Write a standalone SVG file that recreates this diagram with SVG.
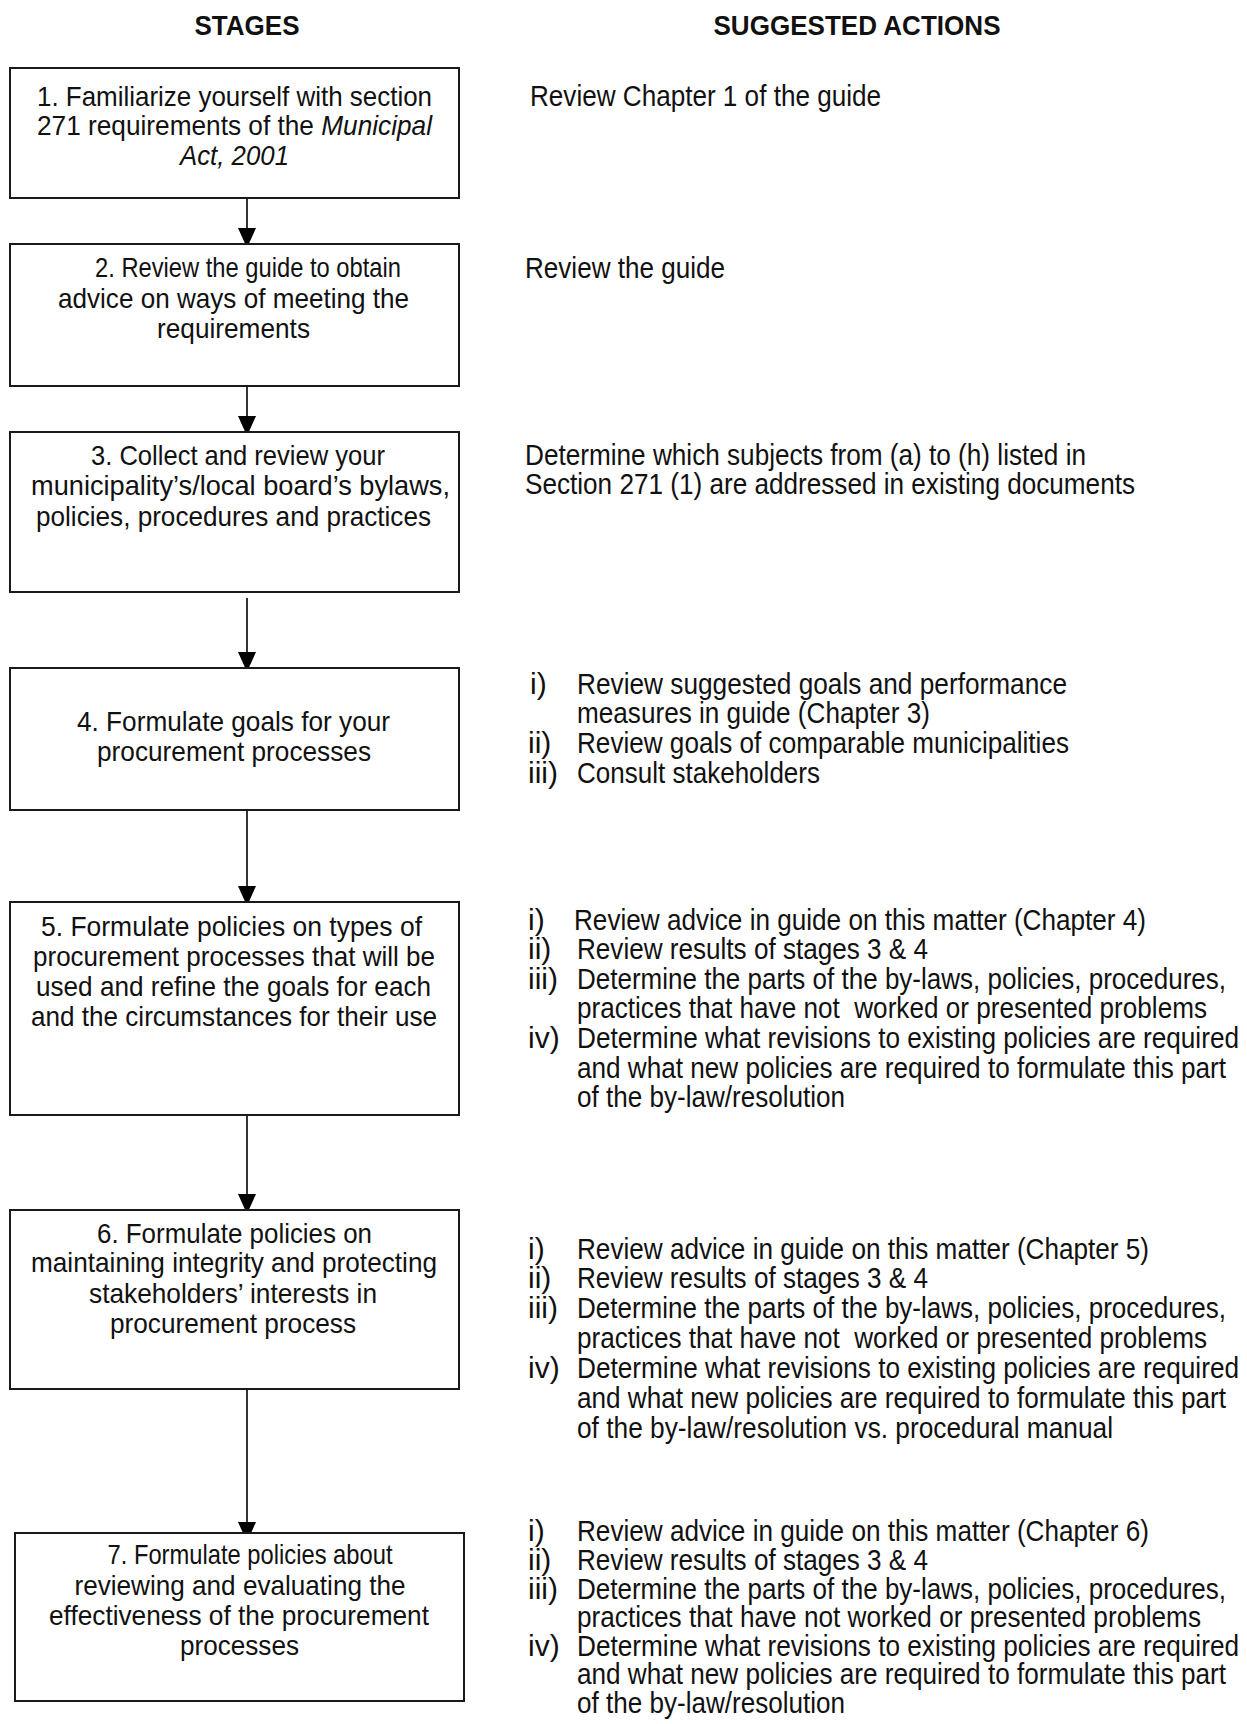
<svg xmlns="http://www.w3.org/2000/svg" width="1247" height="1724" viewBox="0 0 1247 1724">
<style>
  text { font-family: 'Liberation Sans Narrow', 'Arial Narrow', 'Liberation Sans', Arial, sans-serif; font-size: 28px; fill: #111; }
  .hdr { font-weight: bold; font-size: 28px; text-anchor: middle; }
  .c { text-anchor: middle; }
  .r text { font-size: 30px; }
  .box { fill: #fff; stroke: #1a1a1a; stroke-width: 2; }
  .conn { stroke: #000; stroke-width: 1.6; fill: none; marker-end: url(#ah); }
  .it { font-style: italic; }
</style>
<defs>
  <marker id="ah" markerUnits="userSpaceOnUse" markerWidth="18" markerHeight="22" refX="16" refY="9" orient="auto">
    <path d="M0,0 L20,9 L0,18 Z" fill="#000"/>
  </marker>
</defs>
<rect x="0" y="0" width="1247" height="1724" fill="#fff"/>

<text class="hdr" x="247" y="35" textLength="105" lengthAdjust="spacingAndGlyphs">STAGES</text>
<text class="hdr" x="857" y="35" textLength="287" lengthAdjust="spacingAndGlyphs">SUGGESTED ACTIONS</text>

<g id="connectors">
  <line class="conn" x1="247" y1="198" x2="247" y2="244"/>
  <line class="conn" x1="247" y1="386" x2="247" y2="432"/>
  <line class="conn" x1="247" y1="598" x2="247" y2="668"/>
  <line class="conn" x1="247" y1="810" x2="247" y2="902"/>
  <line class="conn" x1="247" y1="1115" x2="247" y2="1210"/>
  <line class="conn" x1="247" y1="1389" x2="247" y2="1538"/>
</g>

<g id="stage1">
  <rect class="box" x="10" y="68" width="449" height="130"/>
  <text class="c" x="234.5" y="106" textLength="395" lengthAdjust="spacingAndGlyphs">1. Familiarize yourself with section</text>
  <text class="c" x="234.5" y="135" textLength="395" lengthAdjust="spacingAndGlyphs">271 requirements of the <tspan class="it">Municipal</tspan></text>
  <text class="c it" x="234.5" y="165" textLength="109" lengthAdjust="spacingAndGlyphs">Act, 2001</text>
</g>
<g id="stage2">
  <rect class="box" x="10" y="244" width="449" height="142"/>
  <text class="c" x="248" y="277" textLength="306" lengthAdjust="spacingAndGlyphs">2. Review the guide to obtain</text>
  <text class="c" x="233.5" y="308" textLength="351" lengthAdjust="spacingAndGlyphs">advice on ways of meeting the</text>
  <text class="c" x="233.5" y="338" textLength="153" lengthAdjust="spacingAndGlyphs">requirements</text>
</g>
<g id="stage3">
  <rect class="box" x="10" y="432" width="449" height="160"/>
  <text class="c" x="238" y="465" textLength="294" lengthAdjust="spacingAndGlyphs">3. Collect and review your</text>
  <text class="c" x="240.5" y="495" textLength="419" lengthAdjust="spacingAndGlyphs">municipality’s/local board’s bylaws,</text>
  <text class="c" x="233.5" y="526" textLength="395" lengthAdjust="spacingAndGlyphs">policies, procedures and practices</text>
</g>
<g id="stage4">
  <rect class="box" x="10" y="668" width="449" height="142"/>
  <text class="c" x="233.5" y="731" textLength="313" lengthAdjust="spacingAndGlyphs">4. Formulate goals for your</text>
  <text class="c" x="234" y="761" textLength="274" lengthAdjust="spacingAndGlyphs">procurement processes</text>
</g>
<g id="stage5">
  <rect class="box" x="10" y="902" width="449" height="213"/>
  <text class="c" x="231.5" y="936" textLength="381" lengthAdjust="spacingAndGlyphs">5. Formulate policies on types of</text>
  <text class="c" x="234" y="966" textLength="402" lengthAdjust="spacingAndGlyphs">procurement processes that will be</text>
  <text class="c" x="233.5" y="996" textLength="395" lengthAdjust="spacingAndGlyphs">used and refine the goals for each</text>
  <text class="c" x="234" y="1026" textLength="406" lengthAdjust="spacingAndGlyphs">and the circumstances for their use</text>
</g>
<g id="stage6">
  <rect class="box" x="10" y="1210" width="449" height="179"/>
  <text class="c" x="234.5" y="1243" textLength="275" lengthAdjust="spacingAndGlyphs">6. Formulate policies on</text>
  <text class="c" x="234" y="1272" textLength="406" lengthAdjust="spacingAndGlyphs">maintaining integrity and protecting</text>
  <text class="c" x="233" y="1303" textLength="288" lengthAdjust="spacingAndGlyphs">stakeholders’ interests in</text>
  <text class="c" x="233" y="1333" textLength="246" lengthAdjust="spacingAndGlyphs">procurement process</text>
</g>
<g id="stage7">
  <rect class="box" x="15" y="1533" width="449" height="168"/>
  <text class="c" x="250" y="1564" textLength="285" lengthAdjust="spacingAndGlyphs">7. Formulate policies about</text>
  <text class="c" x="240" y="1595" textLength="331" lengthAdjust="spacingAndGlyphs">reviewing and evaluating the</text>
  <text class="c" x="239" y="1625" textLength="380" lengthAdjust="spacingAndGlyphs">effectiveness of the procurement</text>
  <text class="c" x="239.5" y="1655" textLength="119" lengthAdjust="spacingAndGlyphs">processes</text>
</g>

<g class="r">
<g id="actions1">
  <text x="530" y="106" textLength="351" lengthAdjust="spacingAndGlyphs">Review Chapter 1 of the guide</text>
</g>
<g id="actions2">
  <text x="525" y="278" textLength="200" lengthAdjust="spacingAndGlyphs">Review the guide</text>
</g>
<g id="actions3">
  <text x="525" y="465" textLength="561" lengthAdjust="spacingAndGlyphs">Determine which subjects from (a) to (h) listed in</text>
  <text x="525" y="494" textLength="610" lengthAdjust="spacingAndGlyphs">Section 271 (1) are addressed in existing documents</text>
</g>
<g id="actions4">
  <text x="530" y="694">i)</text>
  <text x="577" y="694" textLength="490" lengthAdjust="spacingAndGlyphs">Review suggested goals and performance</text>
  <text x="577" y="723" textLength="353" lengthAdjust="spacingAndGlyphs">measures in guide (Chapter 3)</text>
  <text x="528" y="753">ii)</text>
  <text x="577" y="753" textLength="492" lengthAdjust="spacingAndGlyphs">Review goals of comparable municipalities</text>
  <text x="528" y="783">iii)</text>
  <text x="577" y="783" textLength="243" lengthAdjust="spacingAndGlyphs">Consult stakeholders</text>
</g>
<g id="actions5">
  <text x="528" y="930">i)</text>
  <text x="574" y="930" textLength="572" lengthAdjust="spacingAndGlyphs">Review advice in guide on this matter (Chapter 4)</text>
  <text x="528" y="959">ii)</text>
  <text x="577" y="959" textLength="351" lengthAdjust="spacingAndGlyphs">Review results of stages 3 &amp; 4</text>
  <text x="528" y="989">iii)</text>
  <text x="577" y="989" textLength="649" lengthAdjust="spacingAndGlyphs">Determine the parts of the by-laws, policies, procedures,</text>
  <text x="577" y="1018" textLength="630" lengthAdjust="spacingAndGlyphs" xml:space="preserve">practices that have not  worked or presented problems</text>
  <text x="528" y="1048">iv)</text>
  <text x="577" y="1048" textLength="662" lengthAdjust="spacingAndGlyphs">Determine what revisions to existing policies are required</text>
  <text x="577" y="1078" textLength="649" lengthAdjust="spacingAndGlyphs">and what new policies are required to formulate this part</text>
  <text x="577" y="1107" textLength="268" lengthAdjust="spacingAndGlyphs">of the by-law/resolution</text>
</g>
<g id="actions6">
  <text x="528" y="1259">i)</text>
  <text x="577" y="1259" textLength="572" lengthAdjust="spacingAndGlyphs">Review advice in guide on this matter (Chapter 5)</text>
  <text x="528" y="1288">ii)</text>
  <text x="577" y="1288" textLength="351" lengthAdjust="spacingAndGlyphs">Review results of stages 3 &amp; 4</text>
  <text x="528" y="1318">iii)</text>
  <text x="577" y="1318" textLength="649" lengthAdjust="spacingAndGlyphs">Determine the parts of the by-laws, policies, procedures,</text>
  <text x="577" y="1348" textLength="630" lengthAdjust="spacingAndGlyphs" xml:space="preserve">practices that have not  worked or presented problems</text>
  <text x="528" y="1378">iv)</text>
  <text x="577" y="1378" textLength="662" lengthAdjust="spacingAndGlyphs">Determine what revisions to existing policies are required</text>
  <text x="577" y="1408" textLength="649" lengthAdjust="spacingAndGlyphs">and what new policies are required to formulate this part</text>
  <text x="577" y="1438" textLength="536" lengthAdjust="spacingAndGlyphs">of the by-law/resolution vs. procedural manual</text>
</g>
<g id="actions7">
  <text x="528" y="1541">i)</text>
  <text x="577" y="1541" textLength="572" lengthAdjust="spacingAndGlyphs">Review advice in guide on this matter (Chapter 6)</text>
  <text x="528" y="1570">ii)</text>
  <text x="577" y="1570" textLength="351" lengthAdjust="spacingAndGlyphs">Review results of stages 3 &amp; 4</text>
  <text x="528" y="1599">iii)</text>
  <text x="577" y="1599" textLength="649" lengthAdjust="spacingAndGlyphs">Determine the parts of the by-laws, policies, procedures,</text>
  <text x="577" y="1627" textLength="624" lengthAdjust="spacingAndGlyphs">practices that have not worked or presented problems</text>
  <text x="528" y="1656">iv)</text>
  <text x="577" y="1656" textLength="662" lengthAdjust="spacingAndGlyphs">Determine what revisions to existing policies are required</text>
  <text x="577" y="1684" textLength="649" lengthAdjust="spacingAndGlyphs">and what new policies are required to formulate this part</text>
  <text x="577" y="1713" textLength="268" lengthAdjust="spacingAndGlyphs">of the by-law/resolution</text>
</g>
</g>
</svg>
